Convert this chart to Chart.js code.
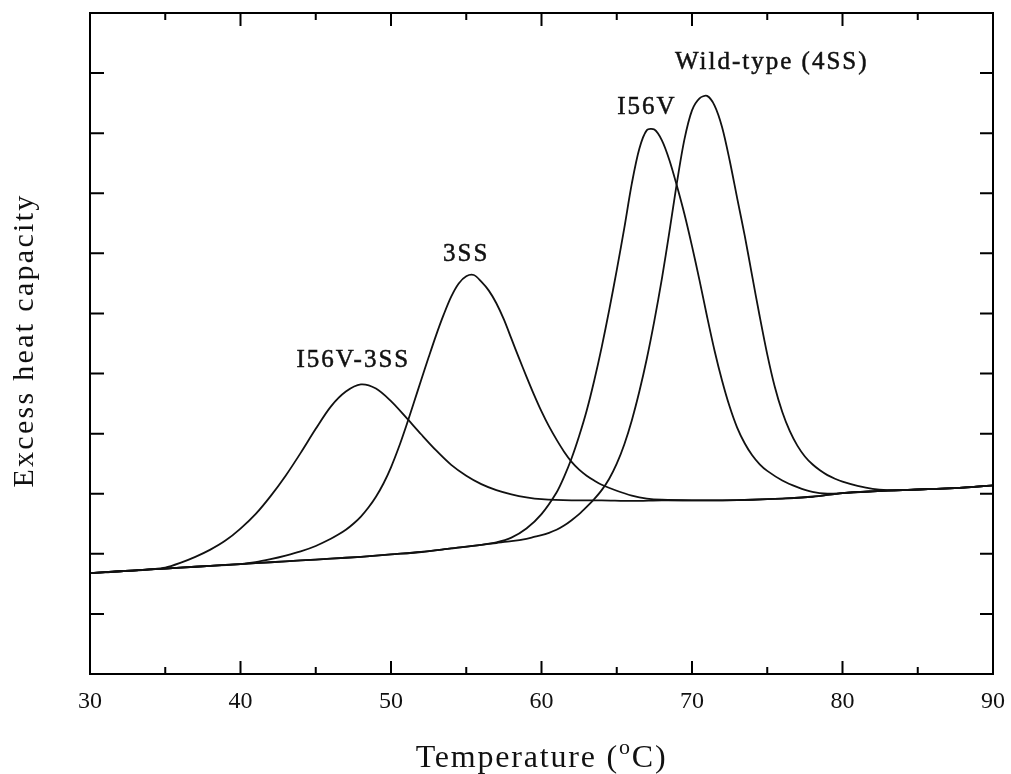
<!DOCTYPE html>
<html>
<head>
<meta charset="utf-8">
<script src="https://cdn.jsdelivr.net/npm/chart.js@4.4.1/dist/chart.umd.min.js"></script>
<style>
  html, body { margin: 0; padding: 0; background: #fff; }
  #wrap { width: 1011px; height: 774px; }
</style>
</head>
<body>
<div id="wrap"><canvas id="dsc"></canvas></div>
<script>
// temperature (deg C) and excess heat capacity (arbitrary units)
const i56v3ssTemp = [30,31,32,33,34,35,36,37,38,39,40,41,42,43,44,45,46,47,48,49,50,51,52,53,54,55,56,57,58,59,60,62,64,66,68,70,72,74,76,78,80,82,84,86,88,90];
const i56v3ssCp   = [1.68,1.69,1.71,1.72,1.74,1.77,1.85,1.95,2.07,2.22,2.42,2.66,2.96,3.30,3.68,4.08,4.45,4.70,4.82,4.75,4.54,4.27,3.99,3.72,3.48,3.30,3.16,3.06,2.99,2.94,2.91,2.89,2.89,2.88,2.89,2.89,2.89,2.90,2.92,2.95,3.01,3.04,3.06,3.08,3.10,3.14];

const ss3Temp = [30,32,34,36,38,40,41,42,43,44,45,46,46.5,47,47.5,48,48.5,49,49.5,50,50.5,51,51.5,52,52.5,53,53.5,54,54.5,55,55.5,56,56.5,57,57.5,58,58.5,59,59.5,60,60.5,61,61.5,62,62.5,63,63.5,64,65,66,67,68,70,72,74,76,78,80,82,84,86,88,90];
const ss3Cp   = [1.68,1.71,1.74,1.77,1.80,1.83,1.86,1.91,1.97,2.04,2.13,2.25,2.32,2.40,2.50,2.62,2.77,2.95,3.17,3.44,3.76,4.12,4.50,4.89,5.27,5.64,5.98,6.28,6.50,6.62,6.64,6.53,6.38,6.17,5.90,5.58,5.26,4.95,4.65,4.37,4.12,3.90,3.70,3.53,3.40,3.30,3.22,3.15,3.05,2.97,2.92,2.90,2.89,2.89,2.90,2.92,2.95,3.01,3.04,3.06,3.08,3.10,3.14];

const i56vTemp = [30,32,34,36,38,40,42,44,46,48,50,52,54,56,57,58,59,60,61,61.5,62,62.5,63,63.5,64,64.5,65,65.5,66,66.5,67,67.5,68,68.5,69,69.5,70,70.5,71,71.5,72,72.5,73,73.5,74,74.5,75,76,77,78,79,80,82,84,86,88,90];
const i56vCp   = [1.68,1.71,1.74,1.77,1.80,1.83,1.86,1.89,1.92,1.95,1.99,2.03,2.09,2.15,2.19,2.27,2.42,2.66,3.02,3.28,3.59,3.96,4.38,4.88,5.44,6.06,6.72,7.42,8.16,8.74,9.05,9.06,8.88,8.55,8.12,7.65,7.12,6.55,5.95,5.38,4.88,4.45,4.10,3.84,3.64,3.49,3.38,3.22,3.11,3.03,3.00,3.01,3.04,3.06,3.08,3.10,3.14];

const wtTemp = [30,32,34,36,38,40,42,44,46,48,50,52,54,56,57,58,59,59.5,60,60.5,61,61.5,62,62.5,63,63.5,64,64.5,65,65.5,66,66.5,67,67.5,68,68.5,69,69.5,70,70.5,71,71.5,72,72.5,73,73.5,74,74.5,75,75.5,76,76.5,77,77.5,78,78.5,79,79.5,80,81,82,83,84,86,88,90];
const wtCp   = [1.68,1.71,1.74,1.77,1.80,1.83,1.86,1.89,1.92,1.95,1.99,2.03,2.09,2.15,2.18,2.21,2.25,2.28,2.31,2.35,2.40,2.47,2.56,2.66,2.78,2.91,3.06,3.25,3.50,3.82,4.22,4.70,5.25,5.88,6.58,7.36,8.18,8.90,9.38,9.58,9.62,9.46,9.10,8.55,7.92,7.30,6.62,5.95,5.32,4.78,4.36,4.04,3.80,3.62,3.49,3.39,3.31,3.25,3.20,3.13,3.08,3.06,3.06,3.08,3.10,3.14];

const seriesNames = ["I56V-3SS", "3SS", "I56V", "Wild-type (4SS)"];
// where each curve's name is written, in data units
const labelTemp = [47.5, 55.0, 67.0, 75.3];
const labelCp   = [5.22, 6.99, 9.43, 10.18];

const xTicks = [30, 40, 50, 60, 70, 80, 90];
const xTitle = ["Temperature (", "o", "C)"];
const yTitle = "Excess heat capacity";

const pairs = (xs, ys) => xs.map((t, i) => ({ x: t, y: ys[i] }));
const line = (label, data) => ({
  label, data,
  borderColor: "#111", borderWidth: 1.8,
  pointRadius: 0, fill: false, tension: 0.3
});

const SERIF = "'Liberation Serif', 'Times New Roman', serif";

// box, inward ticks, axis titles and curve names
const framePlugin = {
  id: "frame",
  afterDraw(chart) {
    const { ctx, chartArea: a, scales: { x, y } } = chart;
    ctx.save();
    ctx.strokeStyle = "#000";
    ctx.lineWidth = 2;
    ctx.strokeRect(a.left, a.top, a.right - a.left, a.bottom - a.top);
    ctx.beginPath();
    x.ticks.forEach((t) => {
      const px = x.getPixelForValue(t.value);
      const len = t.value % 10 === 0 ? 13 : 7;
      ctx.moveTo(px, a.bottom); ctx.lineTo(px, a.bottom - len);
      ctx.moveTo(px, a.top); ctx.lineTo(px, a.top + len);
    });
    y.ticks.forEach((t) => {
      const py = y.getPixelForValue(t.value);
      ctx.moveTo(a.left, py); ctx.lineTo(a.left + 14, py);
      ctx.moveTo(a.right, py); ctx.lineTo(a.right - 13, py);
    });
    ctx.stroke();

    ctx.fillStyle = "#111";
    ctx.strokeStyle = "#111";
    ctx.lineWidth = 0.5;
    ctx.letterSpacing = "2px";
    ctx.font = "25px " + SERIF;
    ctx.textAlign = "center";
    ctx.textBaseline = "middle";
    seriesNames.forEach((n, i) => {
      const px = x.getPixelForValue(labelTemp[i]), py = y.getPixelForValue(labelCp[i]);
      ctx.fillText(n, px, py);
      ctx.strokeText(n, px, py);
    });

    // x title with a raised small "o"
    ctx.textAlign = "left";
    ctx.textBaseline = "alphabetic";
    ctx.letterSpacing = "1.8px";
    const big = "32px " + SERIF, small = "22px " + SERIF;
    ctx.font = big;
    const w0 = ctx.measureText(xTitle[0]).width, w2 = ctx.measureText(xTitle[2]).width;
    ctx.font = small;
    const w1 = ctx.measureText(xTitle[1]).width;
    const cx = (a.left + a.right) / 2, base = 767;
    let tx = cx - (w0 + w1 + w2) / 2;
    ctx.font = big; ctx.fillText(xTitle[0], tx, base); tx += w0;
    ctx.font = small; ctx.fillText(xTitle[1], tx, base - 13); tx += w1;
    ctx.font = big; ctx.fillText(xTitle[2], tx, base);

    // y title
    ctx.translate(33, (a.top + a.bottom) / 2 - 3);
    ctx.rotate(-Math.PI / 2);
    ctx.letterSpacing = "2.3px";
    ctx.font = "30px " + SERIF;
    ctx.textAlign = "center";
    ctx.fillText(yTitle, 0, 0);
    ctx.restore();
  }
};

new Chart(document.getElementById("dsc"), {
  type: "line",
  data: {
    datasets: [
      line(seriesNames[0], pairs(i56v3ssTemp, i56v3ssCp)),
      line(seriesNames[1], pairs(ss3Temp, ss3Cp)),
      line(seriesNames[2], pairs(i56vTemp, i56vCp)),
      line(seriesNames[3], pairs(wtTemp, wtCp))
    ]
  },
  options: {
    responsive: true,
    maintainAspectRatio: false,
    animation: false,
    layout: { padding: { top: 13, right: 18, left: 0, bottom: 0 } },
    plugins: { legend: { display: false }, tooltip: { enabled: false } },
    scales: {
      x: {
        type: "linear", min: 30, max: 90,
        grid: { display: false, drawTicks: false },
        border: { display: false },
        ticks: {
          stepSize: 5, padding: 13, color: "#111",
          font: { family: SERIF, size: 24 },
          callback: (v) => (xTicks.includes(v) ? String(v) : "")
        },
        afterFit: (s) => { s.height = 100; s.paddingLeft = 0; s.paddingRight = 0; }
      },
      y: {
        type: "linear", min: 0, max: 11,
        grid: { display: false, drawTicks: false },
        border: { display: false },
        ticks: { stepSize: 1, display: false },
        afterFit: (s) => { s.width = 90; }
      }
    }
  },
  plugins: [framePlugin]
});
</script>
</body>
</html>
